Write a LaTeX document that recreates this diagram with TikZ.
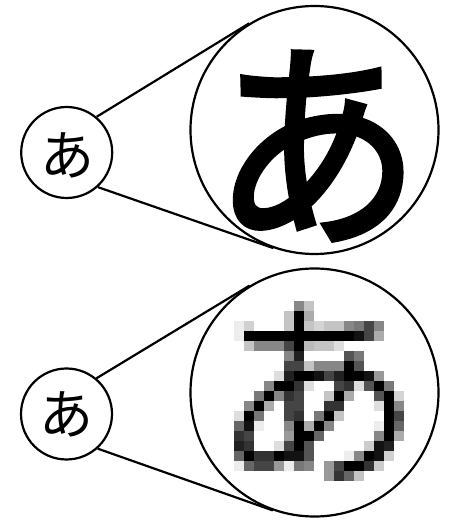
\documentclass[tikz,border=0pt]{standalone}
\usepackage{fontspec}
\newfontfamily\kanafont{Noto Sans CJK JP}
\newfontfamily\kanathick{Noto Sans CJK JP}[FakeBold=2.5]
\usetikzlibrary{calc}

\tikzset{
  lens/.style={circle,draw,line width=2.2pt,inner sep=0pt},
  spyline/.style={line width=2.2pt},
  smallkana/.style={font=\kanafont\fontsize{54}{54}\selectfont,inner sep=0pt},
  bigkana/.style={font=\kanathick\fontsize{208}{208}\selectfont,inner sep=0pt,yscale=1.07},
}

\begin{document}
\begin{tikzpicture}[x=10pt,y=10pt]
\useasboundingbox (0,0) rectangle (45,52.2);
% upper pair: vector glyph
\node[lens,minimum size=91pt] (smallA) at (6.67,36.95) {};
\node[lens,minimum size=248pt] (bigA) at (31.45,39.2) {};
\node[smallkana] (kanaA) at (6.7,36.7) {あ};
\node[bigkana] (zoomA) at (31.67,37.6) {あ};
\draw[spyline] (smallA.50) -- (tangent cs:node=bigA,point={(smallA.50)},solution=2);
\draw[spyline] (smallA.-48) -- (tangent cs:node=bigA,point={(smallA.-48)},solution=1);
% lower pair: pixel glyph
\node[lens,minimum size=91pt] (smallB) at (6.65,10.8) {};
\node[lens,minimum size=248pt] (bigB) at (31.45,12.95) {};
\node[smallkana] (kanaB) at (6.65,10.8) {あ};
\foreach \c/\r/\k in {6/0/47,7/0/23,
  5/1/23,6/1/100,7/1/33,
  0/2/7,1/2/18,5/2/23,6/2/100,7/2/23,8/2/17,9/2/23,10/2/23,11/2/47,12/2/53,13/2/73,14/2/47,
  0/3/7,1/3/100,2/3/100,3/3/100,4/3/100,5/3/100,6/3/100,7/3/100,8/3/100,9/3/100,10/3/100,11/3/100,12/3/93,13/3/73,14/3/33,
  1/4/23,2/4/47,3/4/47,4/4/47,5/4/73,6/4/100,7/4/27,8/4/23,9/4/23,10/4/13,
  5/5/47,6/5/87,11/5/67,12/5/53,
  5/6/73,6/6/73,7/6/23,8/6/47,9/6/47,10/6/47,11/6/100,12/6/67,
  4/7/13,5/7/87,6/7/100,7/7/100,8/7/93,9/7/73,10/7/87,11/7/100,12/7/100,13/7/93,14/7/40,
  3/8/47,4/8/100,5/8/100,6/8/80,7/8/13,10/8/73,11/8/80,12/8/13,13/8/67,14/8/100,15/8/53,
  2/9/53,3/9/100,4/9/47,5/9/80,6/9/73,9/9/23,10/9/100,11/9/33,14/9/67,15/9/100,16/9/17,
  1/10/47,2/10/100,3/10/33,5/10/73,6/10/73,9/10/80,10/10/80,14/10/13,15/10/100,16/10/47,
  0/11/13,1/11/100,2/11/53,5/11/73,6/11/80,8/11/53,9/11/100,10/11/23,15/11/100,16/11/73,
  0/12/60,1/12/93,2/12/7,5/12/47,6/12/100,7/12/33,8/12/100,9/12/47,14/12/7,15/12/100,16/12/60,
  0/13/80,1/13/73,5/13/40,6/13/100,7/13/100,8/13/60,14/13/47,15/13/100,16/13/33,
  0/14/87,1/14/80,4/14/13,5/14/73,6/14/100,7/14/67,13/14/20,14/14/93,15/14/87,
  0/15/60,1/15/100,2/15/80,3/15/80,4/15/100,5/15/93,6/15/93,7/15/67,11/15/7,12/15/47,13/15/100,14/15/93,15/15/18,
  0/16/7,1/16/60,2/16/73,3/16/73,4/16/40,5/16/7,6/16/53,7/16/47,9/16/40,10/16/73,11/16/100,12/16/100,13/16/80,14/16/20,
  9/17/40,10/17/80,11/17/60,12/17/23}
  \fill[black!\k] (23.4+\c,22.1-\r) rectangle ++(1,-1);
\draw[spyline] (smallB.50) -- (tangent cs:node=bigB,point={(smallB.50)},solution=2);
\draw[spyline] (smallB.-48) -- (tangent cs:node=bigB,point={(smallB.-48)},solution=1);
\end{tikzpicture}
\end{document}
